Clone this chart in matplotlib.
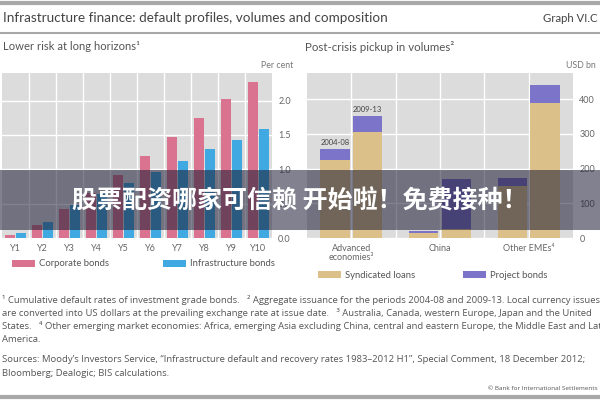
import matplotlib
matplotlib.use('Agg')
import matplotlib.pyplot as plt
import numpy as np
from matplotlib.patches import Rectangle
from matplotlib.lines import Line2D

# left panel: cumulative default rates, per cent
years = ['Y1', 'Y2', 'Y3', 'Y4', 'Y5', 'Y6', 'Y7', 'Y8', 'Y9', 'Y10']
corporate = [0.05, 0.19, 0.42, 0.66, 0.92, 1.19, 1.47, 1.75, 2.02, 2.27]
infrastructure = [0.07, 0.23, 0.48, 0.64, 0.80, 0.96, 1.12, 1.29, 1.43, 1.59]

# right panel: issuance, USD bn
regions = ['Advanced\neconomies\u00b3', 'China', 'Other EMEs\u2074']
periods = ['2004-08', '2009-13']
synd_0408 = [225, 13, 150]
proj_0408 = [31, 8, 23]
synd_0913 = [306, 25, 390]
proj_0913 = [46, 145, 51]

PINK = '#d9738f'
BLUE = '#41a9e1'
TAN = '#dcc089'
PURPLE = '#7c74c9'
BG = '#dcdcdc'
TXT = '#555555'
FONT = ['Lato', 'DejaVu Sans']
NOTE_FONT = ['Open Sans', 'DejaVu Sans']

plt.rcParams['font.family'] = FONT

W, H = 600, 400
fig = plt.figure(figsize=(6, 4), dpi=100)


def fx(x):
    return x / W


def fy(y):
    return 1 - y / H


def hline(y, lw):
    fig.add_artist(Line2D([0, 1], [fy(y), fy(y)], transform=fig.transFigure,
                          color='#a8a8a8', lw=lw))


def style(ax):
    ax.set_facecolor(BG)
    for s in ax.spines.values():
        s.set_visible(False)
    ax.yaxis.tick_right()
    ax.tick_params(axis='y', length=0, pad=4.5, labelsize=6.5, labelcolor='#666666')
    ax.tick_params(axis='x', which='major', length=0, pad=4, labelsize=6.5, labelcolor='#666666')
    ax.tick_params(axis='x', which='minor', length=0)
    ax.grid(True, which='both', color='white', lw=1)
    ax.set_axisbelow(True)


# header
hline(3, 3)
hline(33, 1.5)
hline(397, 3)
fig.text(fx(3), fy(18), 'Infrastructure finance: default profiles, volumes and composition',
         fontsize=9.7, color='#444444', va='center', ha='left')
fig.text(fx(543), fy(18), 'Graph VI.C', fontsize=8.2, color='#444444', va='center', ha='left')
fig.text(fx(3), fy(47), 'Lower risk at long horizons\u00b9', fontsize=8.1, color=TXT, va='center')
fig.text(fx(305), fy(47), 'Post-crisis pickup in volumes\u00b2', fontsize=8.3, color=TXT, va='center')
fig.text(fx(293), fy(66), 'Per cent', fontsize=6.3, color='#777777', va='center', ha='right')
fig.text(fx(596), fy(66), 'USD bn', fontsize=6.3, color='#777777', va='center', ha='right')

# left panel
ax1 = fig.add_axes([fx(2), fy(238), fx(270), 165 / H])
style(ax1)
x = np.arange(len(years))
b_corp = ax1.bar(x - 0.2, corporate, 0.37, color=PINK, zorder=3)
b_infra = ax1.bar(x + 0.2, infrastructure, 0.37, color=BLUE, zorder=3)
ax1.set_xlim(-0.5, 9.5)
ax1.set_ylim(0, 2.4)
ax1.set_xticks(x)
ax1.set_xticklabels(years)
ax1.set_xticks(np.arange(0.5, 9.5, 1), minor=True)
ax1.xaxis.grid(False, which='major')
ax1.set_yticks([0, 0.5, 1.0, 1.5, 2.0])
ax1.set_yticklabels(['0.0', '0.5', '1.0', '1.5', '2.0'])

# right panel
ax2 = fig.add_axes([fx(307), fy(238), fx(266), 165 / H])
style(ax2)
r = np.arange(len(regions))
off = 0.185
bw = 0.33
b_s1 = ax2.bar(r - off, synd_0408, bw, color=TAN, zorder=3)
b_p1 = ax2.bar(r - off, proj_0408, bw, bottom=synd_0408, color=PURPLE, zorder=3)
b_s2 = ax2.bar(r + off, synd_0913, bw, color=TAN, zorder=3)
b_p2 = ax2.bar(r + off, proj_0913, bw, bottom=synd_0913, color=PURPLE, zorder=3)
ax2.set_xlim(-0.5, 2.5)
ax2.set_ylim(0, 475)
ax2.set_xticks(r)
ax2.set_xticklabels(regions, linespacing=1.1)
ax2.set_xticks([0.5, 1.5], minor=True)
ax2.set_yticks([0, 100, 200, 300, 400])

for xpos, top, lab in [(-off, synd_0408[0] + proj_0408[0], periods[0]),
                       (off, synd_0913[0] + proj_0913[0], periods[1])]:
    ax2.annotate(lab, (xpos, top), xytext=(0, 2), textcoords='offset points',
                 ha='center', va='bottom', fontsize=5.5, color='#444444', zorder=4)

# legends
def leg(handle, label, x, y):
    lg = fig.legend([handle], [label], loc='center left',
                    bbox_to_anchor=(fx(x), fy(y)), frameon=False, fontsize=6.8,
                    handlelength=2.4, handleheight=0.7, handletextpad=0.5,
                    borderpad=0, borderaxespad=0, labelcolor=TXT)
    return lg

leg(b_corp, 'Corporate bonds', 12, 264)
leg(b_infra, 'Infrastructure bonds', 163, 264)
leg(b_s1, 'Syndicated loans', 318, 275)
leg(b_p1, 'Project bonds', 463, 275)

# footnotes
notes = [
    '\u00b9 Cumulative default rates of investment grade bonds.   \u00b2 Aggregate issuance for the periods 2004-08 and 2009-13. Local currency issues',
    'are converted into US dollars at the prevailing exchange rate at issue date.   \u00b3 Australia, Canada, western Europe, Japan and the United',
    'States.   \u2074 Other emerging market economies: Africa, emerging Asia excluding China, central and eastern Europe, the Middle East and Latin',
    'America.',
]
for i, line in enumerate(notes):
    fig.text(fx(2), fy(300 + 13 * i), line, fontsize=6.8, color=TXT, va='center',
             family=NOTE_FONT)
sources = [
    'Sources: Moody\u2019s Investors Service, \u201cInfrastructure default and recovery rates 1983\u20132012 H1\u201d, Special Comment, 18 December 2012;',
    'Bloomberg; Dealogic; BIS calculations.',
]
for i, line in enumerate(sources):
    fig.text(fx(2), fy(360 + 13 * i), line, fontsize=6.8, color=TXT, va='center',
             family=NOTE_FONT)
fig.text(fx(598), fy(388), '\u00a9 Bank for International Settlements', fontsize=4.6,
         color=TXT, va='center', ha='right', family=NOTE_FONT)

# overlay banner
fig.add_artist(Rectangle((0, fy(230)), 1, 60 / H, transform=fig.transFigure,
                         facecolor=(0.1, 0.1, 0.2), alpha=0.55, lw=0, zorder=10))
fig.text(0.5, fy(201), '股票配资哪家可信赖 开始啦！免费接种！', fontsize=18,
         family=['Noto Sans CJK SC', 'DejaVu Sans'], weight='bold', color='white',
         ha='center', va='center', zorder=11)

fig.savefig('out.png', dpi=100)
